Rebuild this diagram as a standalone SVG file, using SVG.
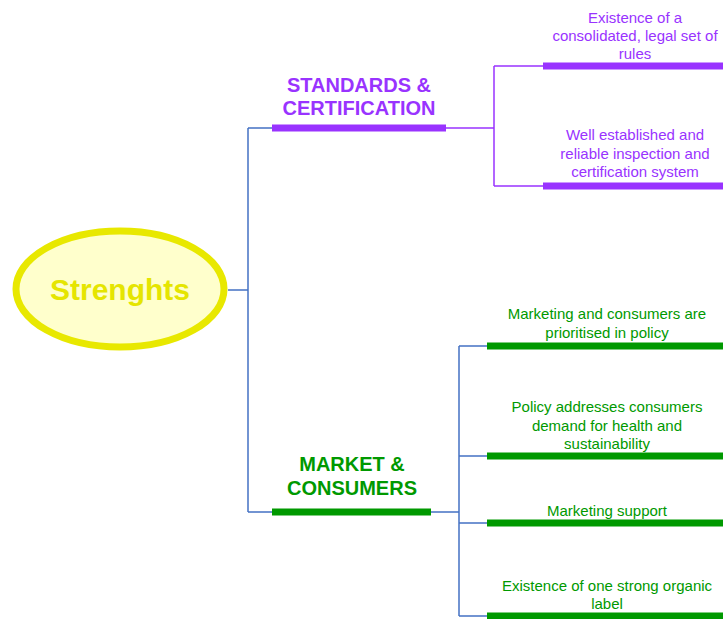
<svg xmlns="http://www.w3.org/2000/svg" width="723" height="619" viewBox="0 0 723 619">
<style>
text{font-family:"Liberation Sans",Arial,sans-serif;text-anchor:middle}
.conn{fill:none;stroke:#4472C4;stroke-width:1.5}
.pconn{fill:none;stroke:#9933FF;stroke-width:1.5}
.pbar{stroke:#9933FF;stroke-width:7}
.gbar{stroke:#009900;stroke-width:7}
.ph{font-size:20px;font-weight:bold;fill:#9933FF}
.gh{font-size:20px;font-weight:bold;fill:#009900}
.pt{font-size:15px;fill:#9933FF}
.gt{font-size:15px;fill:#009900}
</style>
<rect width="723" height="619" fill="#fff"/>
<g id="connectors">
<path class="conn" d="M228 290H248M248 128V512M248 128H272M248 512H272"/>
<path class="pconn" d="M446 128H494M494 66V186M494 66H543M494 186H543"/>
<path class="conn" d="M431 512H459M459 346V616M459 346H487M459 456H487M459 523H487M459 616H487"/>
</g>
<g id="root">
<ellipse cx="120" cy="289" rx="104" ry="58" fill="#FFFFCC" stroke="#E8E800" stroke-width="7"/>
<text x="120" y="300" font-size="30" font-weight="bold" fill="#E5E500">Strenghts</text>
</g>
<g id="standards">
<line class="pbar" x1="272" y1="128" x2="446" y2="128"/>
<text class="ph" x="359" y="92">STANDARDS &amp;</text>
<text class="ph" x="359" y="115">CERTIFICATION</text>
</g>
<g id="std1">
<line class="pbar" x1="543" y1="66" x2="723" y2="66"/>
<text class="pt" x="635" y="23">Existence of a</text>
<text class="pt" x="635" y="41">consolidated, legal set of</text>
<text class="pt" x="635" y="59">rules</text>
</g>
<g id="std2">
<line class="pbar" x1="543" y1="186" x2="723" y2="186"/>
<text class="pt" x="635" y="140">Well established and</text>
<text class="pt" x="635" y="159">reliable inspection and</text>
<text class="pt" x="635" y="177">certification system</text>
</g>
<g id="market">
<line class="gbar" x1="272" y1="512" x2="431" y2="512"/>
<text class="gh" x="352" y="471">MARKET &amp;</text>
<text class="gh" x="352" y="495">CONSUMERS</text>
</g>
<g id="mkt1">
<line class="gbar" x1="487" y1="346" x2="723" y2="346"/>
<text class="gt" x="607" y="319">Marketing and consumers are</text>
<text class="gt" x="607" y="338">prioritised in policy</text>
</g>
<g id="mkt2">
<line class="gbar" x1="487" y1="456" x2="723" y2="456"/>
<text class="gt" x="607" y="412">Policy addresses consumers</text>
<text class="gt" x="607" y="431">demand for health and</text>
<text class="gt" x="607" y="449">sustainability</text>
</g>
<g id="mkt3">
<line class="gbar" x1="487" y1="523" x2="723" y2="523"/>
<text class="gt" x="607" y="516">Marketing support</text>
</g>
<g id="mkt4">
<line class="gbar" x1="487" y1="616" x2="723" y2="616"/>
<text class="gt" x="607" y="591">Existence of one strong organic</text>
<text class="gt" x="607" y="609">label</text>
</g>
</svg>
